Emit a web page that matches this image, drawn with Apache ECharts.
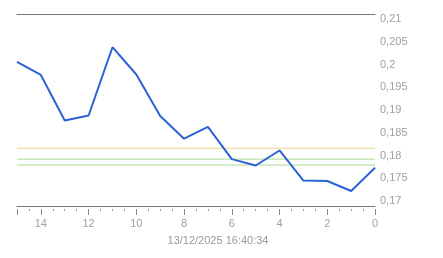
<!DOCTYPE html>
<html><head><meta charset="utf-8">
<script src="https://cdn.jsdelivr.net/npm/echarts@6/dist/echarts.min.js"></script>
<style>html,body{margin:0;padding:0;background:#fff}#c{width:443px;height:258px}</style>
</head><body><div id="c"></div>
<script>
const xValues = [15,14,13,12,11,10,9,8,7,6,5,4,3,2,1,0];
const yValues = [0.1995,0.1966,0.1866,0.1877,0.2027,0.1967,0.1876,0.1826,0.1852,0.1781,0.1767,0.1800,0.1734,0.1733,0.1711,0.1762];
const yTickLabels = [0.17,0.175,0.18,0.185,0.19,0.195,0.2,0.205,0.21];
const refLines = [0.1805,0.1781,0.1768];
const refColors = ['#ecd68a','#a9dc94','#a9dc94'];
const timeLabel = '13/12/2025 16:40:34';

const chart = echarts.init(document.getElementById('c'), null, {renderer:'canvas'});
const font = 'Liberation Sans, Arial, sans-serif';
const xMin = 0, xMax = 15;
const series = [];
refLines.forEach((v,i)=>{
  series.push({type:'line',xAxisIndex:0,data:[[xMin,v],[xMax,v]],z:2,silent:true,
    showSymbol:false,lineStyle:{color:refColors[i],width:1},itemStyle:{color:refColors[i]}});
});
series.push({type:'line',xAxisIndex:0,data:xValues.map((x,i)=>[x,yValues[i]]),
    showSymbol:false,lineStyle:{color:'#2b62d6',width:2},itemStyle:{color:'#2b62d6'},z:3});
chart.setOption({
  animation:false,
  grid:{left:17,right:68,top:14,bottom:52},
  xAxis:[
    {type:'value',min:xMin,max:xMax,inverse:true,interval:2,position:'bottom',offset:3,
     axisLine:{show:false},
     axisTick:{show:true,length:6,lineStyle:{color:'#888'}},
     minorTick:{show:true,splitNumber:4,length:2,lineStyle:{color:'#999'}},
     axisLabel:{color:'#a0a0a0',fontSize:11,fontFamily:font,margin:9,showMaxLabel:false},
     splitLine:{show:false},minorSplitLine:{show:false}},
    {type:'value',min:xMin,max:xMax,inverse:true,position:'bottom',offset:0,
     axisLine:{show:true,lineStyle:{color:'#777',width:1}},
     axisTick:{show:false},axisLabel:{show:false},splitLine:{show:false}},
    {type:'value',min:xMin,max:xMax,inverse:true,position:'top',offset:0,
     axisLine:{show:true,lineStyle:{color:'#777',width:1}},
     axisTick:{show:false},axisLabel:{show:false},splitLine:{show:false}}
  ],
  yAxis:{type:'value',position:'right',min:0.1678,max:0.21,
    axisLine:{show:false},axisTick:{show:false},splitLine:{show:false},
    axisLabel:{color:'#a0a0a0',fontSize:11,fontFamily:font,margin:5,verticalAlign:'top',lineHeight:10,
      customValues:yTickLabels,
      formatter:v=>String(+v.toFixed(4)).replace('.',',')}},
  graphic:[{type:'text',x:218,y:241,style:{text:timeLabel,fill:'#999',font:'11px '+font,align:'center',verticalAlign:'middle'}}],
  series:series
});
</script></body></html>
